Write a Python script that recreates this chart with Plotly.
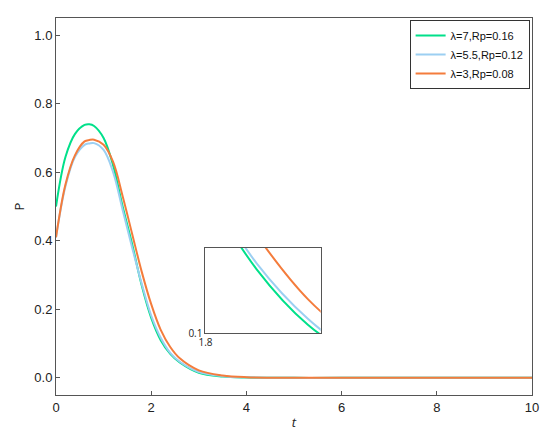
import plotly.graph_objects as go

t_vals = [0, 0.2, 0.4, 0.6, 0.7, 0.8, 1.0, 1.2, 1.4, 1.6, 1.8, 2.0, 2.2, 2.4, 2.6, 3.0, 3.5, 4.0, 5.0, 6.0, 8.0, 10.0]
p_green = [0.50, 0.645, 0.712, 0.738, 0.740, 0.735, 0.70, 0.62, 0.50, 0.39, 0.27, 0.175, 0.11, 0.07, 0.045, 0.015, 0.004, 0.001, 0.0, 0.0, 0.0, 0.0]
p_blue = [0.41, 0.56, 0.645, 0.68, 0.684, 0.685, 0.665, 0.60, 0.49, 0.38, 0.275, 0.182, 0.117, 0.073, 0.047, 0.017, 0.005, 0.0015, 0.0, 0.0, 0.0, 0.0]
p_orange = [0.41, 0.565, 0.65, 0.69, 0.694, 0.695, 0.68, 0.63, 0.53, 0.42, 0.31, 0.215, 0.14, 0.09, 0.057, 0.022, 0.007, 0.002, 0.0003, 0.0, 0.0, 0.0]
names = ["λ=7,Rp=0.16", "λ=5.5,Rp=0.12", "λ=3,Rp=0.08"]
colors = ["#00E08A", "#9CCFF2", "#F47C3C"]
series = [p_green, p_blue, p_orange]

fig = go.Figure()
for nm, col, ys in zip(names, colors, series):
    fig.add_trace(go.Scatter(x=t_vals, y=ys, name=nm, mode="lines",
                             line=dict(color=col, width=2, shape="spline")))
for nm, col, ys in zip(names, colors, series):
    fig.add_trace(go.Scatter(x=t_vals, y=ys, mode="lines", showlegend=False,
                             xaxis="x2", yaxis="y2",
                             line=dict(color=col, width=2, shape="spline")))

ax = dict(showline=True, linecolor="#555", linewidth=1, mirror=True, ticks="inside",
          ticklen=4, tickcolor="#555", showgrid=False, zeroline=False,
          tickfont=dict(family="Liberation Sans, Arial", size=13, color="#222"))
fig.update_layout(
    width=550, height=435, plot_bgcolor="white", paper_bgcolor="white",
    margin=dict(l=48, r=26, t=10, b=48),
    xaxis=dict(ax, range=[0, 10], tickvals=[0, 2, 4, 6, 8, 10],
               title=dict(text="<i>t</i>", standoff=4, font=dict(size=13, color="#222"))),
    yaxis=dict(ax, range=[-0.05, 1.05], tickvals=[0, 0.2, 0.4, 0.6, 0.8, 1.0], tickformat=".1f",
               title=dict(text="P", standoff=6, font=dict(size=13, color="#222"))),
    xaxis2=dict(ax, domain=[0.314, 0.556], anchor="y2", range=[1.8, 2.25], tickvals=[1.8],
                ticks="", tickfont=dict(size=10, color="#222")),
    yaxis2=dict(ax, domain=[0.164, 0.39], anchor="x2", range=[0.1, 0.2], tickvals=[0.1],
                ticks="", tickfont=dict(size=10, color="#222")),
    legend=dict(x=0.995, y=0.995, xanchor="right", yanchor="top", bgcolor="white",
                bordercolor="#333", borderwidth=1,
                font=dict(family="Liberation Sans, Arial", size=11, color="#111"),
                tracegroupgap=0, itemwidth=30),
)
fig.write_html("out.html")
